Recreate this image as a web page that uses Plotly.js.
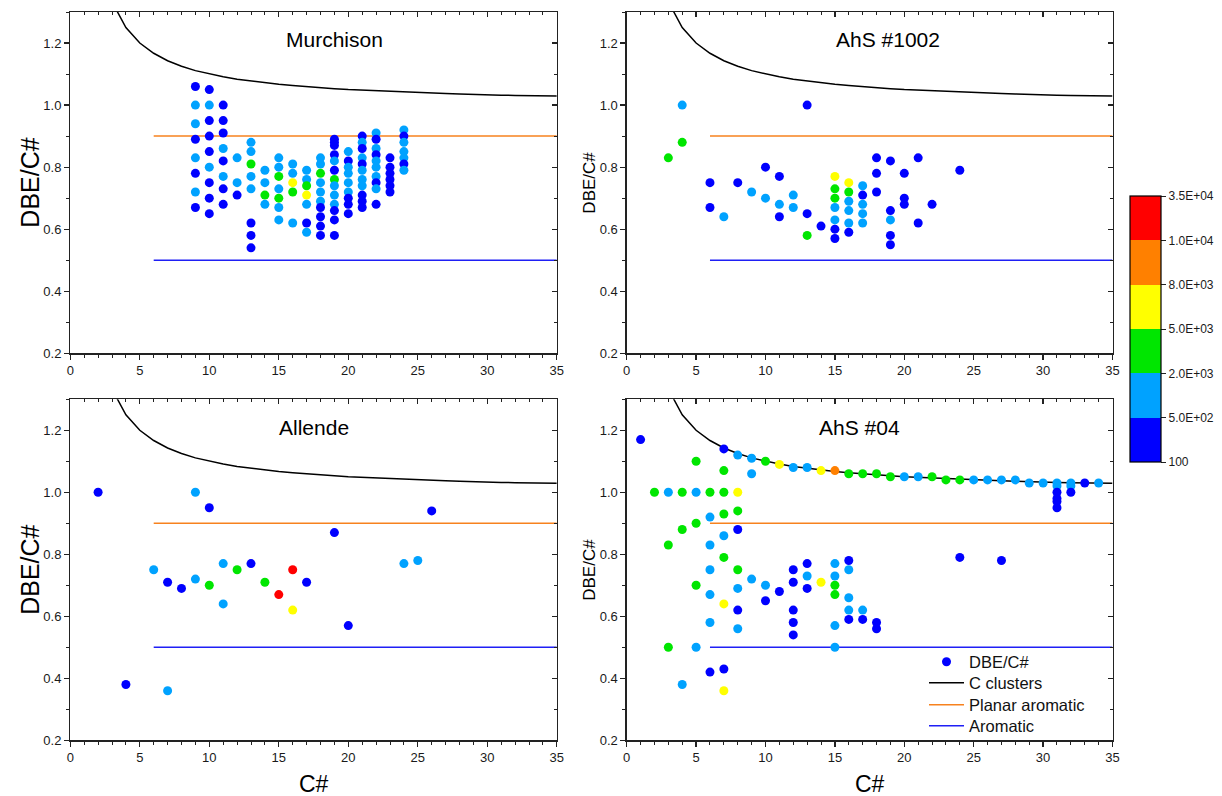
<!DOCTYPE html>
<html><head><meta charset="utf-8">
<script src="https://cdn.plot.ly/plotly-3.0.1.min.js"></script>
<style>html,body{margin:0;padding:0;background:#fff}#chart{width:1222px;height:796px}</style>
</head><body><div id="chart"></div>
<script>
// Intensity class of each peak: 0:100-5.0E+02, 1:5.0E+02-2.0E+03, 2:2.0E+03-5.0E+03,
// 3:5.0E+03-8.0E+03, 4:8.0E+03-1.0E+04, 5:1.0E+04-3.5E+04
const intensityTicks = ['100','5.0E+02','2.0E+03','5.0E+03','8.0E+03','1.0E+04','3.5E+04'];
const classColors = ['#0000FF','#00A2FF','#00E600','#FFFF00','#FF8000','#FF0000'];

// Murchison
const murchison_C = [
 9,9,9,9,9,9,9,9,
 10,10,10,10,10,10,10,10,10,
 11,11,11,11,11,11,11,11,
 12,12,12,
 13,13,13,13,13,13,13,13,
 14,14,14,14,
 15,15,15,15,15,15,15,
 16,16,16,16,16,
 17,17,17,17,17,17,17,
 18,18,18,18,18,18,18,18,18,18,
 19,19,19,19,19,19,19,19,19,19,19,19,19,
 20,20,20,20,20,20,20,20,20,
 21,21,21,21,21,21,21,21,21,21,21,
 22,22,22,22,22,22,22,22,22,22,
 23,23,23,23,23,23,
 24,24,24,24,24,24,24];
const murchison_dbe = [
 1.06,1.00,0.94,0.89,0.83,0.78,0.72,0.67,
 1.05,1.00,0.95,0.90,0.85,0.80,0.75,0.70,0.65,
 1.00,0.95,0.91,0.86,0.82,0.77,0.73,0.68,
 0.83,0.75,0.71,
 0.88,0.85,0.81,0.77,0.73,0.62,0.58,0.54,
 0.79,0.75,0.71,0.68,
 0.83,0.80,0.77,0.73,0.70,0.67,0.63,
 0.81,0.78,0.75,0.72,0.62,
 0.79,0.76,0.74,0.71,0.68,0.62,0.59,
 0.83,0.81,0.78,0.75,0.72,0.69,0.67,0.64,0.61,0.58,
 0.89,0.88,0.87,0.84,0.82,0.79,0.76,0.74,0.71,0.68,0.66,0.63,0.58,
 0.85,0.82,0.80,0.78,0.75,0.72,0.70,0.68,0.65,
 0.90,0.88,0.86,0.83,0.81,0.79,0.76,0.74,0.71,0.69,0.67,
 0.91,0.89,0.86,0.84,0.82,0.80,0.77,0.75,0.73,0.68,
 0.83,0.80,0.78,0.76,0.74,0.72,
 0.92,0.90,0.88,0.85,0.83,0.81,0.79];
const murchison_cls = [
 0,1,1,0,1,0,1,0,
 0,1,0,0,0,1,0,0,0,
 0,0,0,1,0,1,0,0,
 1,1,0,
 1,1,2,1,1,0,0,0,
 1,1,2,1,
 1,1,2,1,2,1,1,
 1,1,3,2,1,
 1,1,2,3,1,0,1,
 1,1,2,1,1,1,0,0,0,0,
 0,0,0,0,1,0,2,1,1,1,0,0,0,
 1,0,1,1,1,1,0,0,0,
 0,1,0,1,0,1,1,1,0,0,0,
 1,0,1,0,1,1,1,0,1,0,
 0,0,0,0,0,0,
 1,0,1,1,1,0,1];

// AhS #1002
const ahs1002_C = [3,4,4,6,6,7,8,9,10,10,11,11,11,12,12,13,13,13,14,
 15,15,15,15,15,15,15, 16,16,16,16,16,16, 17,17,17,17,17,
 18,18,18, 19,19,19,19,19, 20,20,20, 21,21, 22, 24];
const ahs1002_dbe = [0.83,1.00,0.88,0.75,0.67,0.64,0.75,0.72,0.80,0.70,0.77,0.68,0.64,0.71,0.67,1.00,0.65,0.58,0.61,
 0.77,0.73,0.70,0.67,0.63,0.60,0.57, 0.75,0.72,0.69,0.66,0.62,0.59, 0.74,0.71,0.68,0.65,0.62,
 0.83,0.78,0.72, 0.82,0.66,0.63,0.58,0.55, 0.78,0.70,0.68, 0.83,0.62, 0.68, 0.79];
const ahs1002_cls = [2,1,2,0,0,1,0,1,0,1,0,1,0,1,1,0,0,2,0,
 3,2,2,1,1,0,0, 3,2,1,1,1,0, 1,0,1,1,1,
 0,0,0, 0,0,1,0,0, 0,0,0, 0,0, 0, 0];

// Allende
const allende_C = [2,4,6,7,7,8,9,9,10,10,11,11,12,13,14,15,16,16,17,19,20,24,25,26];
const allende_dbe = [1.00,0.38,0.75,0.71,0.36,0.69,1.00,0.72,0.95,0.70,0.77,0.64,0.75,0.77,0.71,0.67,0.75,0.62,0.71,0.87,0.57,0.77,0.78,0.94];
const allende_cls = [0,0,1,0,1,0,1,1,0,2,1,1,2,0,2,5,5,3,0,0,0,1,1,0];

// AhS #04
const ahs04_C = [
 1,
 2,
 3,3,3,
 4,4,4,
 5,5,5,5,5,
 6,6,6,6,6,6,6,
 7,7,7,7,7,7,7,7,7,
 8,8,8,8,8,8,8,8,
 9,9,9,
 10,10,10,
 11,11,
 12,12,12,12,12,12,
 13,13,13,13,
 14,14,
 15,15,15,15,15,15,15,
 16,16,16,16,16,16,
 17,17,17,
 18,18,18,
 19,20,21,22,23,
 24,24,
 25,26,
 27,27,
 28,29,30,
 31,31,31,31,31,31,
 32,32,32,
 33,34];
const ahs04_dbe = [
 1.17,
 1.00,
 1.00,0.83,0.50,
 1.00,0.88,0.38,
 1.10,1.00,0.90,0.70,0.50,
 1.00,0.92,0.83,0.75,0.67,0.58,0.42,
 1.14,1.07,1.00,0.93,0.86,0.79,0.64,0.43,0.36,
 1.12,1.00,0.94,0.88,0.75,0.69,0.62,0.56,
 1.11,1.06,0.72,
 1.10,0.70,0.65,
 1.09,0.68,
 1.08,0.75,0.71,0.62,0.58,0.54,
 1.08,0.77,0.73,0.69,
 1.07,0.71,
 1.07,0.77,0.73,0.70,0.67,0.57,0.50,
 1.06,0.78,0.75,0.66,0.62,0.59,
 1.06,0.62,0.59,
 1.06,0.58,0.56,
 1.05,1.05,1.05,1.05,1.04,
 1.04,0.79,
 1.04,1.04,
 1.04,0.78,
 1.04,1.03,1.03,
 1.03,1.02,1.00,0.98,0.97,0.95,
 1.03,1.02,1.00,
 1.03,1.03];
const ahs04_cls = [
 0,
 2,
 1,2,2,
 2,2,1,
 2,1,2,2,1,
 2,1,1,1,1,1,0,
 0,2,2,2,1,2,3,0,3,
 1,3,2,0,2,1,0,1,
 1,1,1,
 2,1,0,
 3,0,
 1,0,0,0,0,0,
 1,0,1,0,
 3,3,
 4,1,1,2,2,1,1,
 2,0,1,1,1,0,
 2,1,0,
 2,0,0,
 2,1,1,2,2,
 2,0,
 1,1,
 1,0,
 1,1,1,
 1,1,0,0,0,0,
 1,1,0,
 0,1];

// Reference lines
const cClusters_C = [3,4,5,6,7,8,9,10,11,12,13,14,15,16,17,18,19,20,21,22,23,24,25,26,27,28,29,30,31,32,33,34,35];
const cClusters_dbe = [1.333,1.25,1.2,1.167,1.143,1.125,1.111,1.1,1.091,1.083,1.077,1.071,1.067,1.063,1.059,1.056,1.053,1.05,1.048,1.045,1.043,1.042,1.04,1.038,1.037,1.036,1.034,1.033,1.032,1.031,1.03,1.029,1.029];
const planar_C = [6,35];
const planar_dbe = [0.9,0.9];
const aromatic_C = [6,35];
const aromatic_dbe = [0.5,0.5];

const F = 'Arial, "Liberation Sans", sans-serif';
const W = 1222, H = 796;
const csFixed = [];
for (let i=0;i<6;i++){csFixed.push([i/6,classColors[i]]);csFixed.push([(i+1)/6 - (i<5?1e-6:0),classColors[i]]);}

const panels = [
 {title:'Murchison', C:murchison_C, d:murchison_dbe, k:murchison_cls, xd:[70.3,556.8], yd:[12,353.3], tx:19, bigY:true, showX:false},
 {title:'AhS #1002', C:ahs1002_C, d:ahs1002_dbe, k:ahs1002_cls, xd:[626.7,1112.5], yd:[12,353.3], tx:18.8, bigY:false, showX:false},
 {title:'Allende', C:allende_C, d:allende_dbe, k:allende_cls, xd:[70.3,556.8], yd:[399.3,740.3], tx:17.5, bigY:true, showX:true},
 {title:'AhS #04', C:ahs04_C, d:ahs04_dbe, k:ahs04_cls, xd:[626.7,1112.5], yd:[399.3,740.3], tx:16.8, bigY:false, showX:true}
];

const traces = [];
const layout = {
  width: W, height: H, margin:{l:0,r:0,t:0,b:0},
  paper_bgcolor:'#fff', plot_bgcolor:'rgba(0,0,0,0)',
  font:{family:F, size:13, color:'#1a1a1a'},
  showlegend:true,
  annotations:[]
};
// one legend per entry so the row spacing matches the reference
const legendRows = [662, 683, 705, 726];
['legend','legend2','legend3','legend4'].forEach((lk,i)=>{
  layout[lk] = {x:924/W, y:1-legendRows[i]/H, xanchor:'left', yanchor:'middle', bgcolor:'rgba(0,0,0,0)',
    borderwidth:0, font:{family:F,size:16.5,color:'#111'}, itemwidth:35, tracegroupgap:0};
});

panels.forEach((p,i)=>{
  const n = i+1;
  const xid = n===1?'x':'x'+n, yid = n===1?'y':'y'+n;
  const xk = n===1?'xaxis':'xaxis'+n, yk = n===1?'yaxis':'yaxis'+n;
  const xo = 'x'+(n+4), yo = 'y'+(n+4);
  const xdom = [p.xd[0]/W, p.xd[1]/W];
  const ydom = [1-p.yd[1]/H, 1-p.yd[0]/H];
  layout[xk] = {domain:xdom, anchor:yid, range:[0,35], dtick:5, tick0:0, showgrid:false, zeroline:false,
    showline:true, mirror:true, linecolor:'#222', linewidth:1.3, ticks:'outside', ticklen:5, tickwidth:1.2, tickcolor:'#222',
    minor:{dtick:1, tick0:0, ticks:'outside', ticklen:3, tickwidth:1, tickcolor:'#222'},
    tickfont:{family:F,size:13,color:'#1a1a1a'}, fixedrange:true};
  layout[yk] = {domain:ydom, anchor:xid, range:[0.2,1.3], dtick:0.2, tick0:0.2, tickformat:'.1f', showgrid:false, zeroline:false,
    showline:true, mirror:true, linecolor:'#222', linewidth:1.3, ticks:'outside', ticklen:5, tickwidth:1.2, tickcolor:'#222',
    minor:{dtick:0.1, tick0:0.2, ticks:'outside', ticklen:3, tickwidth:1, tickcolor:'#222'},
    tickfont:{family:F,size:13,color:'#1a1a1a'}, fixedrange:true};
  // inward ticks on top/right
  layout['xaxis'+(n+4)] = {overlaying:xid, anchor:yid, side:'top', range:[0,35], dtick:5, tick0:0, showgrid:false, zeroline:false,
    showline:false, ticks:'inside', ticklen:5, tickwidth:1.2, tickcolor:'#222', showticklabels:false,
    minor:{dtick:1, tick0:0, ticks:'inside', ticklen:3, tickwidth:1, tickcolor:'#222'}, fixedrange:true};
  layout['yaxis'+(n+4)] = {overlaying:yid, anchor:xid, side:'right', range:[0.2,1.3], dtick:0.2, tick0:0.2, showgrid:false, zeroline:false,
    showline:false, ticks:'inside', ticklen:5, tickwidth:1.2, tickcolor:'#222', showticklabels:false,
    minor:{dtick:0.1, tick0:0.2, ticks:'inside', ticklen:3, tickwidth:1, tickcolor:'#222'}, fixedrange:true};
  traces.push({type:'scatter', x:[null], y:[null], xaxis:xo, yaxis:yid, showlegend:false, hoverinfo:'skip', mode:'markers'});
  traces.push({type:'scatter', x:[null], y:[null], xaxis:xid, yaxis:yo, showlegend:false, hoverinfo:'skip', mode:'markers'});

  const leg = (n===4);
  traces.push({type:'scatter', mode:'lines', x:cClusters_C, y:cClusters_dbe, xaxis:xid, yaxis:yid,
    line:{color:'#000', width:1.5}, name:'C clusters', showlegend:leg, legend:'legend2'});
  traces.push({type:'scatter', mode:'lines', x:planar_C, y:planar_dbe, xaxis:xid, yaxis:yid,
    line:{color:'#F7821E', width:1.5}, name:'Planar aromatic', showlegend:leg, legend:'legend3'});
  traces.push({type:'scatter', mode:'lines', x:aromatic_C, y:aromatic_dbe, xaxis:xid, yaxis:yid,
    line:{color:'#1F1FF5', width:1.5}, name:'Aromatic', showlegend:leg, legend:'legend4'});
  const scat = {type:'scatter', mode:'markers', x:p.C, y:p.d, xaxis:xid, yaxis:yid, name:'DBE/C#', showlegend:false,
    marker:{size:9, color:p.k.map(v=>v+0.5), cmin:0, cmax:6, colorscale:csFixed, showscale:false, line:{width:0}}};
  if (n===2) {
    scat.marker.showscale = true;
    scat.marker.colorbar = {x:1130/W, xanchor:'left', xref:'paper', y:1-329/H, yanchor:'middle', yref:'paper',
      len:266/H, lenmode:'fraction', thickness:31, thicknessmode:'pixels', ypad:0, xpad:0,
      outlinewidth:1.2, outlinecolor:'#000', tickmode:'array', tickvals:[0,1,2,3,4,5,6], ticktext:intensityTicks,
      ticks:'outside', ticklen:5, tickcolor:'#222', tickfont:{family:F,size:12,color:'#1a1a1a'}, bgcolor:'rgba(0,0,0,0)', borderwidth:0};
  }
  traces.push(scat);
  if (n===4) {
    traces.push({type:'scatter', mode:'markers', x:[null], y:[null], xaxis:xid, yaxis:yid, name:'DBE/C#',
      marker:{size:9, color:classColors[0]}, showlegend:true, legend:'legend'});
  }
  layout.annotations.push({xref:xid, yref:yid, x:p.tx, y:1.21, text:p.title, showarrow:false,
    xanchor:'center', yanchor:'middle', font:{family:F, size:21, color:'#000'}});
  const ycx = p.bigY ? 30 : 590;
  layout.annotations.push({xref:'paper', yref:'paper', x:ycx/W, y:1-((p.yd[0]+p.yd[1])/2)/H, text:'DBE/C#', showarrow:false,
    textangle:-90, xanchor:'center', yanchor:'middle', font:{family:F, size:p.bigY?25:17, color:'#000'}});
  if (p.showX) {
    layout.annotations.push({xref:'paper', yref:'paper', x:((p.xd[0]+p.xd[1])/2)/W, y:1-784/H, text:'C#', showarrow:false,
      xanchor:'center', yanchor:'middle', font:{family:F, size:23, color:'#000'}});
  }
});

Plotly.newPlot('chart', traces, layout, {displayModeBar:false, staticPlot:true});
</script>
</body></html>
